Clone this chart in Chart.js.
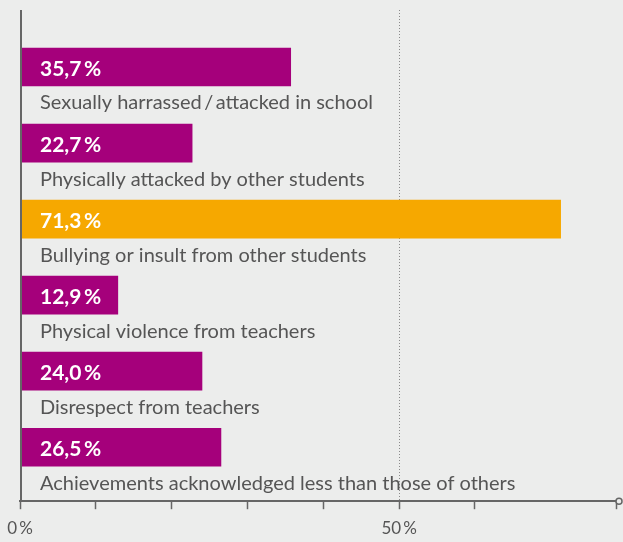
<!DOCTYPE html>
<html><head><meta charset="utf-8">
<script src="https://cdn.jsdelivr.net/npm/chart.js@4"></script>
<style>html,body{margin:0;padding:0;background:#ecedec;overflow:hidden}canvas{display:block}</style>
</head><body>
<canvas id="c" width="623" height="542"></canvas>
<script>
const categories = [
  'Sexually harrassed\u2009/\u2009attacked in school',
  'Physically attacked by other students',
  'Bullying or insult from other students',
  'Physical violence from teachers',
  'Disrespect from teachers',
  'Achievements acknowledged less than those of others'
];
const values = [35.7, 22.7, 71.3, 12.9, 24.0, 26.5];
const valueLabels = ['35,7\u2009%', '22,7\u2009%', '71,3\u2009%', '12,9\u2009%', '24,0\u2009%', '26,5\u2009%'];
const highlighted = ['Bullying or insult from other students'];
const tickLabels = {0: '0\u2009%', 50: '50\u2009%'};

const MAGENTA = '#a5007b', ORANGE = '#f6a800', TEXT = '#555555', AXIS = '#666666';
const FONT = 'Lato';

const labelsPlugin = {
  id: 'labels',
  afterDatasetsDraw(chart) {
    const ctx = chart.ctx;
    const meta = chart.getDatasetMeta(0);
    const left = chart.chartArea.left;
    ctx.save();
    meta.data.forEach((bar, i) => {
      const h = bar.height;
      ctx.textAlign = 'left';
      ctx.textBaseline = 'middle';
      ctx.fillStyle = '#ffffff';
      ctx.font = 'bold 21px ' + FONT;
      ctx.fillText(valueLabels[i], left + 20, bar.y + 2);
      ctx.fillStyle = TEXT;
      ctx.font = '20px ' + FONT;
      ctx.fillText(categories[i], left + 20, bar.y + h / 2 + 17);
    });
    ctx.restore();
  },
  afterDraw(chart) {
    const ctx = chart.ctx, a = chart.chartArea;
    ctx.save();
    ctx.strokeStyle = AXIS;
    ctx.lineWidth = 2;
    ctx.beginPath();
    ctx.moveTo(a.left + 1, a.top);
    ctx.lineTo(a.left + 1, a.bottom);
    ctx.stroke();
    ctx.lineWidth = 1.5;
    ctx.fillStyle = '#ecedec';
    ctx.beginPath();
    ctx.arc(a.right + 3, a.bottom, 3, 0, Math.PI * 2);
    ctx.fill();
    ctx.stroke();
    ctx.restore();
  }
};

new Chart(document.getElementById('c'), {
  type: 'bar',
  data: {
    datasets: [{
      data: values.map((v, i) => ({x: v, y: i})),
      backgroundColor: categories.map(c => highlighted.includes(c) ? ORANGE : MAGENTA),
      borderWidth: 0,
      barThickness: 38
    }]
  },
  options: {
    responsive: false,
    animation: false,
    indexAxis: 'y',
    layout: {padding: {left: 20, right: 1, top: 10, bottom: -5}},
    plugins: {legend: {display: false}, tooltip: {enabled: false}},
    scales: {
      x: {
        type: 'linear', min: 0, max: 78.6,
        ticks: {
          stepSize: 10, autoSkip: false, maxRotation: 0, padding: 7,
          color: TEXT, font: {family: FONT, size: 17, lineHeight: 1.4},
          callback: v => tickLabels[v] || ''
        },
        grid: {
          color: c => (c.tick && c.tick.value === 50) ? '#8a8a8a' : 'transparent',
          lineWidth: 1, tickColor: AXIS, tickLength: 8, tickWidth: 1.5
        },
        border: {color: AXIS, width: 2, dash: [1, 2]}
      },
      y: {type: 'linear', reverse: true, min: -0.75, max: 5.71, offset: false, grace: 0, bounds: 'data', display: false}
    }
  },
  plugins: [labelsPlugin]
});
</script>
</body></html>
